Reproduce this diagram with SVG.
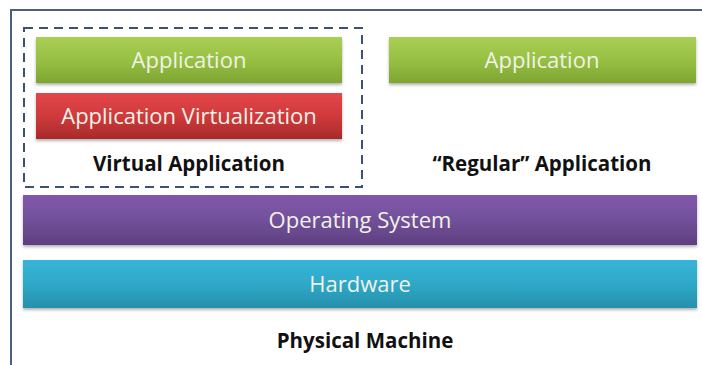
<svg xmlns="http://www.w3.org/2000/svg" width="702" height="365" viewBox="0 0 702 365">
<defs>
<linearGradient id="gGreen" x1="0" y1="0" x2="0" y2="1"><stop offset="0" stop-color="#a9cf55"/><stop offset="0.5" stop-color="#97c043"/><stop offset="1" stop-color="#7ea532"/></linearGradient>
<linearGradient id="gRed" x1="0" y1="0" x2="0" y2="1"><stop offset="0" stop-color="#e2464a"/><stop offset="0.5" stop-color="#d03a3c"/><stop offset="1" stop-color="#a82a2a"/></linearGradient>
<linearGradient id="gPurple" x1="0" y1="0" x2="0" y2="1"><stop offset="0" stop-color="#8158ac"/><stop offset="0.5" stop-color="#72509a"/><stop offset="1" stop-color="#5e3f80"/></linearGradient>
<linearGradient id="gCyan" x1="0" y1="0" x2="0" y2="1"><stop offset="0" stop-color="#36b5d9"/><stop offset="0.5" stop-color="#2fa8c8"/><stop offset="1" stop-color="#2690ab"/></linearGradient>
<filter id="sh" x="-5%" y="-20%" width="110%" height="150%"><feDropShadow dx="0" dy="2" stdDeviation="1.5" flood-color="#000" flood-opacity="0.3"/></filter>
</defs>
<style>
.lbl{font-family:"Open Sans","Liberation Sans",sans-serif;font-size:22px;fill:#f0f2e8;text-anchor:middle}
.cap{font-family:"Open Sans","Liberation Sans",sans-serif;font-size:20.5px;font-weight:bold;fill:#111;text-anchor:middle}
</style>
<rect width="702" height="365" fill="#ffffff"/>
<g id="frame"><path d="M11,365 V10 H702" fill="none" stroke="#4d5d7b" stroke-width="2"/></g>
<g id="virtual-group"><rect x="24" y="28" width="338" height="159" fill="none" stroke="#3d5272" stroke-width="2" stroke-dasharray="9,6"/>
<text class="cap" x="189" y="171">Virtual Application</text></g>
<g id="app1"><rect x="36" y="37" width="306" height="46" fill="url(#gGreen)" filter="url(#sh)"/><text class="lbl" x="189" y="68">Application</text></g>
<g id="appvirt"><rect x="36" y="93" width="306" height="46" fill="url(#gRed)" filter="url(#sh)"/><text class="lbl" x="189" y="124">Application Virtualization</text></g>
<g id="app2"><rect x="389" y="37" width="307" height="46" fill="url(#gGreen)" filter="url(#sh)"/><text class="lbl" x="542" y="68">Application</text></g>
<g id="regular"><text class="cap" x="542" y="171">“Regular” Application</text></g>
<g id="os"><rect x="23" y="195" width="674" height="50" fill="url(#gPurple)" filter="url(#sh)"/><text class="lbl" x="360" y="228">Operating System</text></g>
<g id="hw"><rect x="23" y="260" width="674" height="48" fill="url(#gCyan)" filter="url(#sh)"/><text class="lbl" x="360" y="292">Hardware</text></g>
<g id="pm"><text class="cap" x="365" y="348">Physical Machine</text></g>
<g id="connectors"/>
</svg>
